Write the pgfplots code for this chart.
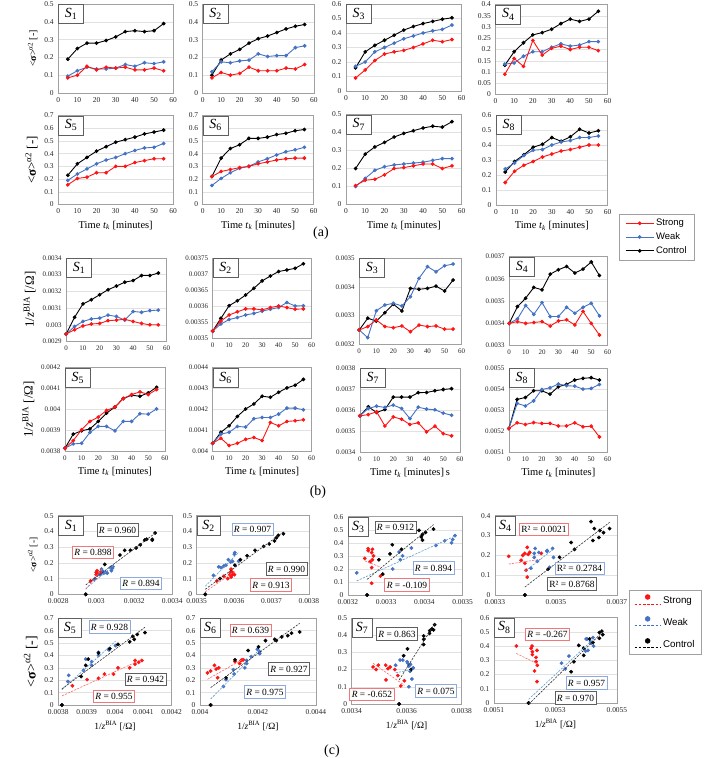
\documentclass[border=0pt]{standalone}
\usepackage{fontspec}
\setmainfont{Liberation Serif}
\newfontfamily\legfont{Liberation Sans}
\usepackage{pgfplots}
\usepackage{pgfplotstable}
\pgfplotsset{compat=1.18}

\definecolor{sred}{RGB}{255,20,20}
\definecolor{sblue}{RGB}{68,114,196}
\definecolor{tred}{RGB}{255,105,105}
\definecolor{tblue}{RGB}{91,155,213}
\definecolor{tblack}{RGB}{50,50,50}
\definecolor{bxred}{RGB}{240,120,120}
\definecolor{bxblue}{RGB}{140,170,220}
\definecolor{bxgray}{RGB}{95,95,95}
\definecolor{framec}{RGB}{160,160,160}
\definecolor{gridc}{RGB}{225,225,225}

\tikzset{tlA/.style={font=\fontsize{10.5}{11}\selectfont}}

\pgfplotsset{
  cmn/.style={scale only axis, anchor=north west, clip mode=individual,
    axis line style={draw=framec, line width=0.6pt},
    major tick length=0pt,
    ymajorgrids, grid style={draw=gridc, line width=0.5pt},
    tick label style={font=\fontsize{7.5}{8}\selectfont, text=black!85},
    /pgf/number format/assume math mode=true,
    scaled ticks=false,
    yticklabel style={/pgf/number format/fixed,/pgf/number format/precision=5},
    xticklabel style={/pgf/number format/fixed,/pgf/number format/precision=5},
    xticklabel shift=1pt, yticklabel shift=1pt},
  pos/.style n args={4}{at={(#1bp,-#2bp)}, width=#3bp, height=#4bp},
  timeax/.style={cmn, xmin=0, xmax=60, xtick={0,10,20,30,40,50,60}},
  ser/.style={line width=0.9pt, mark=*, mark size=1.4pt, mark options={solid}},
  kS/.style={ser, color=black},
  bS/.style={ser, color=sblue},
  rS/.style={ser, color=sred},
  dotS/.style={only marks, mark=*, mark size=1.7pt},
  trend/.style={mark=none, line width=0.6pt, dash pattern=on 2.2pt off 1.2pt},
  legA/.style={
    legend style={anchor=north west, draw=framec, line width=0.6pt,
      font=\legfont\fontsize{9.5}{11}\selectfont, inner xsep=6pt, inner ysep=3pt,
      row sep=1.5pt, cells={anchor=west}},
    legend image code/.code={\draw[mark repeat=2, mark phase=2, ##1]
      plot coordinates {(0bp,0bp) (14bp,0bp) (28bp,0bp)};}},
  legC/.style={
    legend style={anchor=north west, draw=framec, line width=0.6pt,
      font=\legfont\fontsize{9.8}{11}\selectfont, inner xsep=5pt, inner ysep=4pt,
      row sep=9.5pt, cells={anchor=west}},
    legend image code/.code={%
      \draw[##1, line width=0.9pt, dash pattern=on 2.6pt off 1.6pt] (0bp,-3.5bp) -- (26bp,-3.5bp);
      \fill[##1] (13bp,3.5bp) circle (2.4bp);}},
}

% title box in the upper left corner of a panel
\newcommand\ttl[2][25]{\node[draw=bxgray, fill=white, line width=0.7pt,
  anchor=north west, minimum width=#1bp, minimum height=19bp, inner sep=1pt,
  font=\fontsize{14}{14}\selectfont] at (rel axis cs:0,1) {\textit{S}\textsubscript{#2}};}

% time courses of <sigma> (t = 0 row left out)
\newcommand\aplots[1]{%
  \addplot[kS, skip coords between index={0}{1}] table[x=t,y=sc]{#1};
  \addplot[bS, skip coords between index={0}{1}] table[x=t,y=sw]{#1};
  \addplot[rS, skip coords between index={0}{1}] table[x=t,y=sr]{#1};}
% time courses of 1/z
\newcommand\bplots[1]{%
  \addplot[kS] table[x=t,y=zc]{#1};
  \addplot[bS] table[x=t,y=zw]{#1};
  \addplot[rS] table[x=t,y=zr]{#1};}
% scatter of <sigma> against 1/z with least-squares lines
\newcommand\cplots[4]{%
  \addplot[dotS, color=sred] table[x=zr,y=sr]{#1};
  \addplot[dotS, color=sblue] table[x=zw,y=sw]{#1};
  \addplot[dotS, color=black] table[x=zc,y=sc]{#1};
  \addplot[trend, color=tred] table[x=zr,y={create col/linear regression={x=xs,y=sr}}]{#2};
  \addplot[trend, color=tblue] table[x=zw,y={create col/linear regression={x=xs,y=sw}}]{#3};
  \addplot[trend, color=tblack] table[x=zc,y={create col/linear regression={x=xs,y=sc}}]{#4};}

% sorted copy of a table with a centred, rescaled x column for the regression
\newcommand\mkreg[4]{%
  \pgfplotstablesort[sort key=#3]{#1}{#2}%
  \pgfplotstablecreatecol[expr={(\thisrow{#3}-#4)*10000}]{xs}{#1}}

\newcommand\rlab[4]{\node[draw=#3, fill=white, line width=0.6pt, inner xsep=2pt,
  inner ysep=1pt, minimum height=12.5bp, font=\fontsize{9.5}{10}\selectfont]
  at (#1bp,-#2bp) {#4};}

\newcommand\sig{<{\bfseries σ}>\textsuperscript{α2} [-]}
\newcommand\zlab{1/\textit{z}\textsuperscript{BIA} [/Ω]}
\newcommand\tlab{Time \textit{t}\textsubscript{\textit{k}} [minutes]}

\begin{document}

% t [min], <sigma> (strong, weak, control), 1/z [1/Ohm] (strong, weak, control)
\pgfplotstableread{
t sr sw sc zr zw zc
0 0 0 0 0.002945 0.002945 0.002945
5 0.085 0.095 0.19 0.00297 0.00299 0.003045
10 0.10 0.125 0.25 0.002993 0.00302 0.003125
15 0.15 0.145 0.28 0.003005 0.003035 0.00315
20 0.13 0.135 0.28 0.003008 0.00304 0.00318
25 0.145 0.135 0.295 0.003025 0.003058 0.00321
30 0.14 0.14 0.315 0.003028 0.00305 0.003232
35 0.145 0.16 0.345 0.003033 0.003028 0.003255
40 0.13 0.15 0.35 0.00302 0.00308 0.003265
45 0.13 0.17 0.345 0.003008 0.003075 0.003295
50 0.14 0.165 0.35 0.003 0.003085 0.003295
55 0.125 0.175 0.39 0.003 0.003088 0.00331
}\dataA
\pgfplotstableread{
t sr sw sc zr zw zc
0 0 0 0 0.003523 0.003523 0.003523
5 0.085 0.12 0.10 0.003554 0.003545 0.0035625
10 0.115 0.175 0.185 0.003573 0.003559 0.003602
15 0.10 0.17 0.22 0.003583 0.003565 0.003617
20 0.11 0.18 0.245 0.003592 0.003573 0.003635
25 0.145 0.185 0.28 0.003592 0.003578 0.003656
30 0.125 0.22 0.305 0.003589 0.003585 0.003679
35 0.125 0.205 0.32 0.003596 0.003591 0.003694
40 0.125 0.21 0.34 0.003601 0.003596 0.003708
45 0.14 0.21 0.36 0.003596 0.003612 0.003713
50 0.135 0.255 0.375 0.003591 0.003601 0.003718
55 0.16 0.265 0.385 0.003592 0.003602 0.003732
}\dataB
\pgfplotstableread{
t sr sw sc zr zw zc
0 0 0 0 0.00325 0.00325 0.00325
5 0.09 0.17 0.16 0.003262 0.003223 0.003291
10 0.145 0.20 0.27 0.003285 0.003317 0.003281
15 0.21 0.27 0.315 0.003262 0.003337 0.00331
20 0.255 0.30 0.35 0.003258 0.003343 0.00334
25 0.27 0.33 0.385 0.003264 0.003334 0.003316
30 0.28 0.36 0.42 0.003244 0.003366 0.003395
35 0.30 0.38 0.445 0.003267 0.00343 0.003392
40 0.325 0.40 0.465 0.003262 0.003471 0.003395
45 0.35 0.415 0.48 0.003264 0.003453 0.003403
50 0.34 0.425 0.495 0.003253 0.003474 0.003386
55 0.355 0.455 0.505 0.003253 0.00348 0.003424
}\dataC
\pgfplotstableread{
t sr sw sc zr zw zc
0 0 0 0 0.003398 0.003398 0.003398
5 0.09 0.135 0.13 0.003406 0.003418 0.003474
10 0.16 0.14 0.19 0.003398 0.003479 0.003512
15 0.125 0.17 0.23 0.003402 0.003439 0.003561
20 0.24 0.19 0.265 0.003406 0.003492 0.00355
25 0.175 0.19 0.275 0.003386 0.003429 0.003621
30 0.205 0.21 0.29 0.003409 0.003429 0.003641
35 0.215 0.225 0.315 0.003414 0.003471 0.003656
40 0.20 0.215 0.335 0.003391 0.003444 0.003626
45 0.21 0.22 0.325 0.003452 0.003471 0.003644
50 0.21 0.235 0.335 0.003398 0.003489 0.003676
55 0.195 0.235 0.37 0.003345 0.003432 0.003615
}\dataD
\pgfplotstableread{
t sr sw sc zr zw zc
0 0 0 0 0.003813 0.003813 0.003813
5 0.155 0.19 0.23 0.00385 0.003834 0.003881
10 0.205 0.24 0.32 0.003902 0.003837 0.003897
15 0.215 0.28 0.37 0.003942 0.003889 0.003906
20 0.25 0.32 0.42 0.003963 0.003918 0.003942
25 0.25 0.35 0.455 0.003995 0.003918 0.003982
30 0.30 0.37 0.49 0.004011 0.003897 0.004011
35 0.30 0.40 0.51 0.004052 0.003942 0.004052
40 0.33 0.425 0.53 0.004071 0.003942 0.004068
45 0.345 0.445 0.555 0.004084 0.003979 0.004063
50 0.36 0.45 0.57 0.004071 0.003977 0.004079
55 0.36 0.48 0.585 0.004095 0.004002 0.004106
}\dataE
\pgfplotstableread{
t sr sw sc zr zw zc
0 0 0 0 0.004037 0.004037 0.004037
5 0.22 0.15 0.22 0.004061 0.004081 0.00409
10 0.26 0.205 0.365 0.004026 0.00409 0.004121
15 0.275 0.25 0.44 0.004037 0.004118 0.004166
20 0.29 0.285 0.47 0.004056 0.004115 0.004202
25 0.30 0.30 0.52 0.004065 0.004155 0.004226
30 0.32 0.335 0.52 0.00405 0.004161 0.004263
35 0.335 0.36 0.53 0.004137 0.004161 0.004258
40 0.35 0.39 0.55 0.004121 0.004177 0.004282
45 0.36 0.415 0.56 0.004142 0.004206 0.004303
50 0.365 0.43 0.58 0.004145 0.004206 0.004316
55 0.365 0.45 0.59 0.00415 0.004198 0.004344
}\dataF
\pgfplotstableread{
t sr sw sc zr zw zc
0 0 0 0 0.003573 0.003573 0.003573
5 0.105 0.10 0.20 0.003579 0.003608 0.003616
10 0.135 0.145 0.28 0.003592 0.003619 0.003589
15 0.14 0.19 0.32 0.003525 0.003613 0.003603
20 0.165 0.21 0.345 0.003568 0.003624 0.003662
25 0.20 0.22 0.375 0.003557 0.003608 0.003662
30 0.205 0.225 0.395 0.003532 0.00356 0.003662
35 0.215 0.23 0.41 0.00354 0.003614 0.003683
40 0.225 0.235 0.425 0.003497 0.003605 0.003684
45 0.225 0.245 0.435 0.003524 0.003602 0.003692
50 0.20 0.255 0.43 0.003489 0.003586 0.003698
55 0.215 0.255 0.46 0.003478 0.003576 0.003702
}\dataG
\pgfplotstableread{
t sr sw sc zr zw zc
0 0 0 0 0.005213 0.005213 0.005213
5 0.15 0.24 0.22 0.00524 0.005332 0.005351
10 0.225 0.28 0.29 0.005232 0.00532 0.00536
15 0.265 0.33 0.335 0.005241 0.005344 0.005392
20 0.29 0.365 0.385 0.005237 0.005398 0.005392
25 0.32 0.37 0.405 0.005237 0.005406 0.005376
30 0.34 0.40 0.45 0.005225 0.005424 0.005411
35 0.36 0.42 0.425 0.005225 0.005416 0.005422
40 0.37 0.43 0.455 0.00524 0.005414 0.005443
45 0.385 0.45 0.505 0.005221 0.0054 0.005451
50 0.40 0.45 0.48 0.005224 0.005403 0.005454
55 0.40 0.46 0.495 0.005173 0.005422 0.005443
}\dataH

\mkreg{\regRA}{\dataA}{zr}{0.0028}\mkreg{\regBA}{\dataA}{zw}{0.0028}\mkreg{\regKA}{\dataA}{zc}{0.0028}
\mkreg{\regRB}{\dataB}{zr}{0.0035}\mkreg{\regBB}{\dataB}{zw}{0.0035}\mkreg{\regKB}{\dataB}{zc}{0.0035}
\mkreg{\regRC}{\dataC}{zr}{0.0032}\mkreg{\regBC}{\dataC}{zw}{0.0032}\mkreg{\regKC}{\dataC}{zc}{0.0032}
\mkreg{\regRD}{\dataD}{zr}{0.0033}\mkreg{\regBD}{\dataD}{zw}{0.0033}\mkreg{\regKD}{\dataD}{zc}{0.0033}
\mkreg{\regRE}{\dataE}{zr}{0.0038}\mkreg{\regBE}{\dataE}{zw}{0.0038}\mkreg{\regKE}{\dataE}{zc}{0.0038}
\mkreg{\regRF}{\dataF}{zr}{0.004}\mkreg{\regBF}{\dataF}{zw}{0.004}\mkreg{\regKF}{\dataF}{zc}{0.004}
\mkreg{\regRG}{\dataG}{zr}{0.0034}\mkreg{\regBG}{\dataG}{zw}{0.0034}\mkreg{\regKG}{\dataG}{zc}{0.0034}
\mkreg{\regRH}{\dataH}{zr}{0.0051}\mkreg{\regBH}{\dataH}{zw}{0.0051}\mkreg{\regKH}{\dataH}{zc}{0.0051}

\begin{tikzpicture}
\path[use as bounding box] (0,0) rectangle (685bp,-758bp);

%% ---------------- (a) <sigma> against time ----------------
\begin{axis}[timeax, pos={38.3}{4}{115}{89}, ymin=0, ymax=0.5, ytick={0,0.1,0.2,0.3,0.4,0.5},
  ylabel={\sig}, ylabel style={font=\fontsize{10}{10}\selectfont}]
\aplots{\dataA}\ttl{1}
\end{axis}
\begin{axis}[timeax, pos={182.7}{4}{111.3}{89}, ymin=0, ymax=0.5, ytick={0,0.1,0.2,0.3,0.4,0.5}]
\aplots{\dataB}\ttl{2}
\end{axis}
\begin{axis}[timeax, pos={326}{4}{115.7}{87}, ymin=0, ymax=0.6, ytick={0,0.1,0.2,0.3,0.4,0.5,0.6}]
\aplots{\dataC}\ttl{3}
\end{axis}
\begin{axis}[timeax, pos={475.5}{4.5}{112.2}{90}, ymin=0, ymax=0.4,
  ytick={0,0.05,0.1,0.15,0.2,0.25,0.3,0.35,0.4}]
\aplots{\dataD}\ttl{4}
\end{axis}
\begin{axis}[timeax, pos={38.3}{115.5}{115}{89}, ymin=0, ymax=0.7, ytick={0,0.1,0.2,0.3,0.4,0.5,0.6,0.7},
  ylabel={\sig}, ylabel style={font=\fontsize{13}{13}\selectfont},
  xlabel={\tlab}, xlabel style={tlA}]
\aplots{\dataE}\ttl{5}
\end{axis}
\begin{axis}[timeax, pos={182.7}{115.5}{111}{89}, ymin=0, ymax=0.7, ytick={0,0.1,0.2,0.3,0.4,0.5,0.6,0.7},
  xlabel={\tlab}, xlabel style={tlA}]
\aplots{\dataF}\ttl{6}
\end{axis}
\begin{axis}[timeax, pos={326}{114.5}{115.7}{90}, ymin=0, ymax=0.5, ytick={0,0.1,0.2,0.3,0.4,0.5},
  xlabel={\tlab}, xlabel style={tlA}]
\aplots{\dataG}\ttl{7}
\end{axis}
% this panel also carries the legend of (a) and (b)
\begin{axis}[timeax, pos={476}{115}{111.7}{90}, ymin=0, ymax=0.6, ytick={0,0.1,0.2,0.3,0.4,0.5,0.6},
  xlabel={\tlab}, xlabel style={tlA},
  legA, legend style={at={(1.1012,-0.1)}}]
\addlegendimage{rS}\addlegendentry{Strong}
\addlegendimage{bS}\addlegendentry{Weak}
\addlegendimage{kS}\addlegendentry{Control}
\aplots{\dataH}\ttl{8}
\end{axis}

%% ---------------- (b) 1/z against time ----------------
\begin{axis}[timeax, pos={46.3}{258}{100.4}{83.5}, ymin=0.0029, ymax=0.0034,
  ytick={0.0029,0.003,0.0031,0.0032,0.0033,0.0034},
  tick label style={font=\fontsize{7}{8}\selectfont},
  ylabel={\zlab}, ylabel style={font=\fontsize{13}{13}\selectfont}]
\bplots{\dataA}\ttl{1}
\end{axis}
\begin{axis}[timeax, pos={192.7}{258}{99}{80.5}, ymin=0.0035, ymax=0.00375,
  ytick={0.0035,0.00355,0.0036,0.00365,0.0037,0.00375},
  tick label style={font=\fontsize{7}{8}\selectfont}]
\bplots{\dataB}\ttl{2}
\end{axis}
\begin{axis}[timeax, pos={339.3}{258.3}{102.4}{86}, ymin=0.0032, ymax=0.0035,
  ytick={0.0032,0.0033,0.0034,0.0035},
  tick label style={font=\fontsize{7}{8}\selectfont}]
\bplots{\dataC}\ttl{3}
\end{axis}
\begin{axis}[timeax, pos={489.3}{256.7}{98.4}{88.3}, ymin=0.0033, ymax=0.0037,
  ytick={0.0033,0.0034,0.0035,0.0036,0.0037},
  tick label style={font=\fontsize{7}{8}\selectfont}]
\bplots{\dataD}\ttl{4}
\end{axis}
\begin{axis}[timeax, pos={45}{367.7}{100}{83.3}, ymin=0.0038, ymax=0.0042,
  ytick={0.0038,0.0039,0.004,0.0041,0.0042},
  tick label style={font=\fontsize{7}{8}\selectfont},
  ylabel={\zlab}, ylabel style={font=\fontsize{13}{13}\selectfont},
  xlabel={\tlab}, xlabel style={tlA}]
\bplots{\dataE}\ttl{5}
\end{axis}
\begin{axis}[timeax, pos={192.7}{367.7}{99}{83.3}, ymin=0.004, ymax=0.0044,
  ytick={0.004,0.0041,0.0042,0.0043,0.0044},
  tick label style={font=\fontsize{7}{8}\selectfont},
  xlabel={\tlab}, xlabel style={tlA}]
\bplots{\dataF}\ttl{6}
\end{axis}
\begin{axis}[timeax, pos={340}{368}{100}{84.3}, ymin=0.0034, ymax=0.0038,
  ytick={0.0034,0.0035,0.0036,0.0037,0.0038},
  tick label style={font=\fontsize{7}{8}\selectfont},
  xlabel={\tlab\,s}, xlabel style={tlA}]
\bplots{\dataG}\ttl{7}
\end{axis}
\begin{axis}[timeax, pos={489}{368}{98.7}{84.3}, ymin=0.0051, ymax=0.0055,
  ytick={0.0051,0.0052,0.0053,0.0054,0.0055},
  tick label style={font=\fontsize{7}{8}\selectfont},
  xlabel={\tlab}, xlabel style={tlA}]
\bplots{\dataH}\ttl{8}
\end{axis}

%% ---------------- (c) <sigma> against 1/z ----------------
\begin{axis}[cmn, pos={38.3}{515.7}{114}{78.6}, xmin=0.0028, xmax=0.0034,
  xtick={0.0028,0.003,0.0032,0.0034}, ymin=0, ymax=0.5, ytick={0,0.1,0.2,0.3,0.4,0.5},
  ylabel={\sig}, ylabel style={font=\fontsize{9.5}{10}\selectfont}]
\cplots{\dataA}{\regRA}{\regBA}{\regKA}\ttl[25]{1}
\end{axis}
\begin{axis}[cmn, pos={176.7}{515.7}{112.3}{78.6}, xmin=0.0035, xmax=0.0038,
  xtick={0.0035,0.0036,0.0037,0.0038}, ymin=0, ymax=0.5, ytick={0,0.1,0.2,0.3,0.4,0.5}]
\cplots{\dataB}{\regRB}{\regBB}{\regKB}\ttl[23]{2}
\end{axis}
\begin{axis}[cmn, pos={328}{516.7}{114.7}{78.3}, xmin=0.0032, xmax=0.0035,
  xtick={0.0032,0.0033,0.0034,0.0035}, ymin=0, ymax=0.6, ytick={0,0.1,0.2,0.3,0.4,0.5,0.6}]
\cplots{\dataC}{\regRC}{\regBC}{\regKC}\ttl[20]{3}
\end{axis}
\begin{axis}[cmn, pos={475}{515.7}{122}{79.3}, xmin=0.0033, xmax=0.0037,
  xtick={0.0033,0.0035,0.0037}, ymin=0, ymax=0.4, ytick={0,0.1,0.2,0.3,0.4}]
\cplots{\dataD}{\regRD}{\regBD}{\regKD}\ttl[20]{4}
\end{axis}
\begin{axis}[cmn, pos={38.3}{618.3}{113.4}{86.7}, xmin=0.0038, xmax=0.0042,
  xtick={0.0038,0.0039,0.004,0.0041,0.0042}, ymin=0, ymax=0.7, ytick={0,0.1,0.2,0.3,0.4,0.5,0.6,0.7},
  ylabel={\sig}, ylabel style={font=\fontsize{14}{14}\selectfont},
  xlabel={\zlab}, xlabel style={font=\fontsize{9.5}{10}\selectfont}]
\cplots{\dataE}{\regRE}{\regBE}{\regKE}\ttl[23]{5}
\end{axis}
\begin{axis}[cmn, pos={180}{618.3}{116}{86.7}, xmin=0.004, xmax=0.0044,
  xtick={0.004,0.0042,0.0044}, ymin=0, ymax=0.7, ytick={0,0.1,0.2,0.3,0.4,0.5,0.6,0.7},
  xlabel={\zlab}, xlabel style={font=\fontsize{9.5}{10}\selectfont}]
\cplots{\dataF}{\regRF}{\regBF}{\regKF}\ttl[20]{6}
\end{axis}
\begin{axis}[cmn, pos={331.7}{617.8}{110}{86.2}, xmin=0.0034, xmax=0.0038,
  xtick={0.0034,0.0036,0.0038}, ymin=0, ymax=0.5, ytick={0,0.1,0.2,0.3,0.4,0.5},
  xlabel={\zlab}, xlabel style={font=\fontsize{9.5}{10}\selectfont}]
\cplots{\dataG}{\regRG}{\regBG}{\regKG}\ttl[20]{7}
\end{axis}
% this panel also carries the legend of (c)
\begin{axis}[cmn, pos={474}{617.6}{123}{85.4}, xmin=0.0051, xmax=0.0055,
  xtick={0.0051,0.0053,0.0055}, ymin=0, ymax=0.6, ytick={0,0.1,0.2,0.3,0.4,0.5,0.6},
  xlabel={\zlab}, xlabel style={font=\fontsize{9.5}{10}\selectfont},
  legC, legend style={at={(1.0976,1.3232)}}]
\addlegendimage{color=sred}\addlegendentry{Strong}
\addlegendimage{color=sblue}\addlegendentry{Weak}
\addlegendimage{color=black}\addlegendentry{Control}
\cplots{\dataH}{\regRH}{\regBH}{\regKH}\ttl[20]{8}
\end{axis}

%% ---------------- correlation labels ----------------
\rlab{97.5}{530}{bxgray}{\textit{R} = 0.960}
\rlab{73}{552.5}{bxred}{\textit{R} = 0.898}
\rlab{121}{583.5}{bxblue}{\textit{R} = 0.894}
\rlab{232.5}{529.5}{bxblue}{\textit{R} = 0.907}
\rlab{266.5}{569}{bxgray}{\textit{R} = 0.990}
\rlab{251}{585}{bxred}{\textit{R} = 0.913}
\rlab{375.5}{527.5}{bxgray}{\textit{R} = 0.912}
\rlab{413.5}{568}{bxblue}{\textit{R} = 0.894}
\rlab{387}{585}{bxred}{\textit{R} = -0.109}
\rlab{524}{529.5}{bxred}{R² = 0.0021}
\rlab{559.5}{568.5}{bxblue}{R² = 0.2784}
\rlab{552}{584}{bxgray}{R² = 0.8768}
\rlab{89.5}{627}{bxblue}{\textit{R} = 0.928}
\rlab{125.5}{679.5}{bxgray}{\textit{R} = 0.942}
\rlab{94}{696.5}{bxred}{\textit{R} = 0.955}
\rlab{230.5}{630.5}{bxred}{\textit{R} = 0.639}
\rlab{269}{669}{bxgray}{\textit{R} = 0.927}
\rlab{245}{692}{bxblue}{\textit{R} = 0.975}
\rlab{377}{634}{bxgray}{\textit{R} = 0.863}
\rlab{352}{694.5}{bxred}{\textit{R} = -0.652}
\rlab{416}{691}{bxblue}{\textit{R} = 0.075}
\rlab{527.5}{634.5}{bxred}{\textit{R} = -0.267}
\rlab{566.5}{683}{bxblue}{\textit{R} = 0.957}
\rlab{555.5}{698}{bxgray}{\textit{R} = 0.970}

%% ---------------- panel letters ----------------
\node[font=\fontsize{14}{14}\selectfont] at (301bp,-233bp) {(a)};
\node[font=\fontsize{14}{14}\selectfont] at (298bp,-492bp) {(b)};
\node[font=\fontsize{14}{14}\selectfont] at (312bp,-751bp) {(c)};
\end{tikzpicture}
\end{document}
